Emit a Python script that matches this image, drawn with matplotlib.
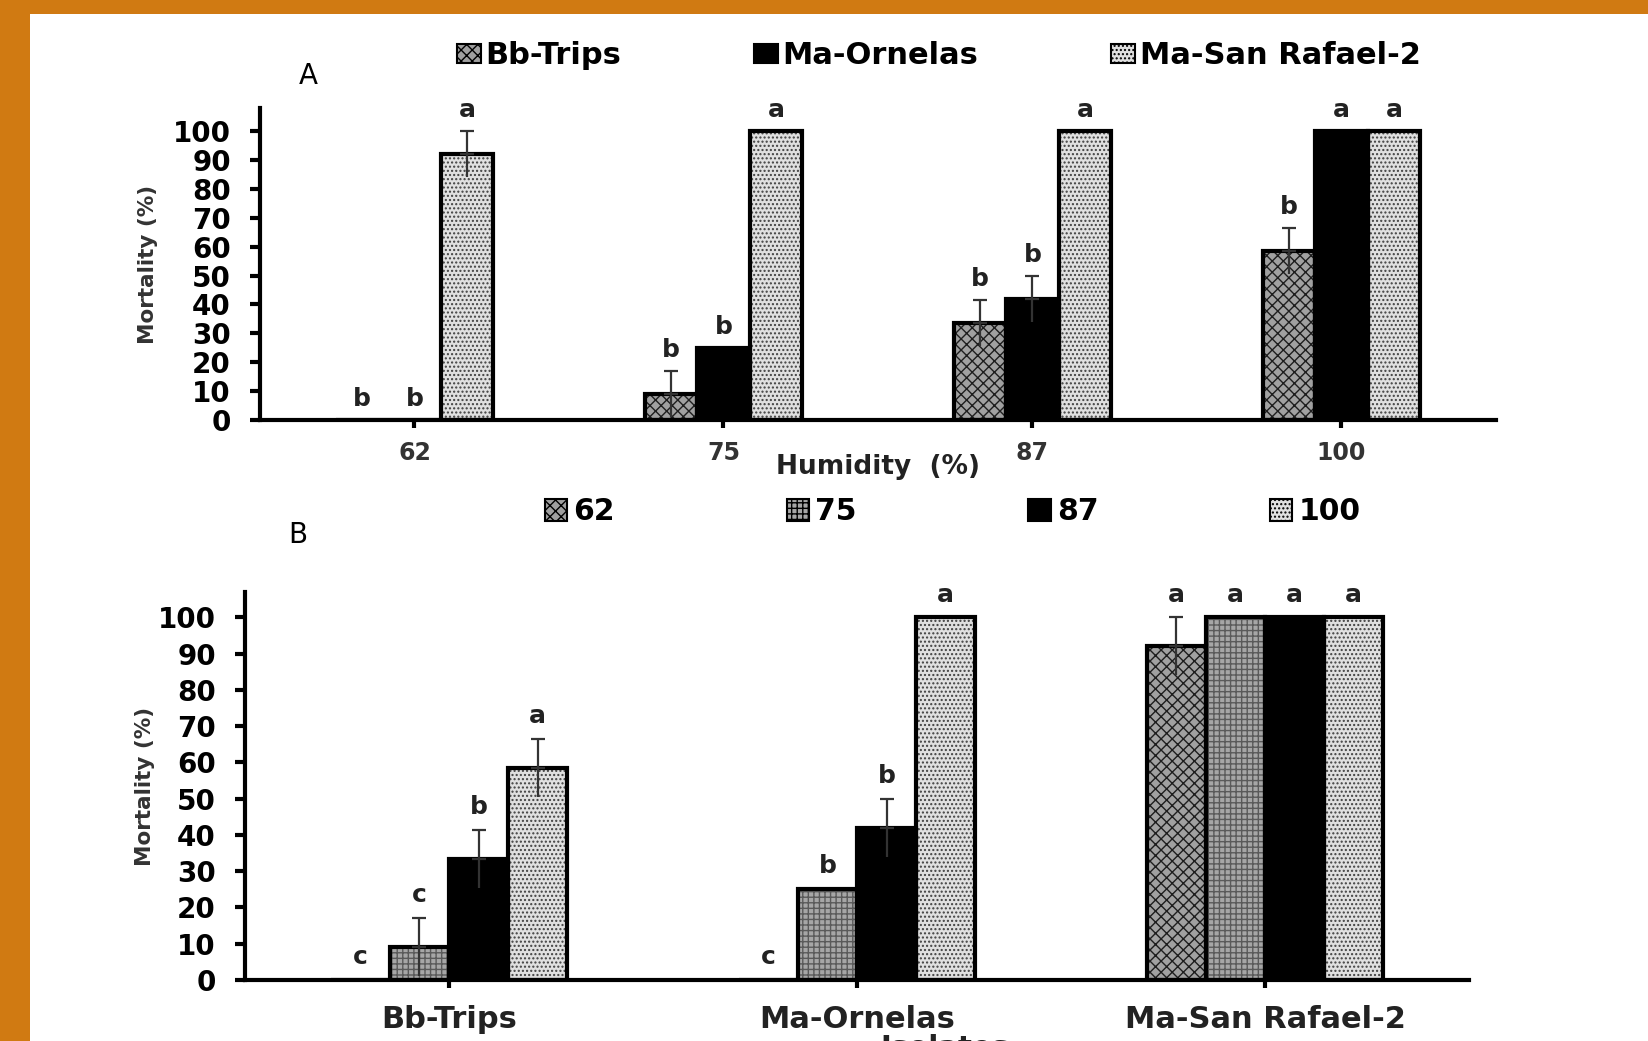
import matplotlib
matplotlib.use('Agg')
import matplotlib.pyplot as plt
import numpy as np
from matplotlib.patches import Patch, Rectangle

# data
humidity = ['62', '75', '87', '100']
isolates = ['Bb-Trips', 'Ma-Ornelas', 'Ma-San Rafael-2']

mort_bb = [0, 9, 33.5, 58.5]
mort_orn = [0, 25, 42, 100]
mort_sr = [92, 100, 100, 100]

err_bb = [0, 8, 8, 8]
err_orn = [0, 0, 8, 0]
err_sr = [8, 0, 0, 0]

# letters in panel A (compare isolates at one humidity)
let_a_bb = ['b', 'b', 'b', 'b']
let_a_orn = ['b', 'b', 'b', 'a']
let_a_sr = ['a', 'a', 'a', 'a']

# letters in panel B (compare humidities within one isolate)
let_b_bb = ['c', 'c', 'b', 'a']
let_b_orn = ['c', 'b', 'b', 'a']
let_b_sr = ['a', 'a', 'a', 'a']

mort = np.array([mort_bb, mort_orn, mort_sr])
err = np.array([err_bb, err_orn, err_sr])
let_a = [let_a_bb, let_a_orn, let_a_sr]
let_b = [let_b_bb, let_b_orn, let_b_sr]

# fill styles: (face, hatch, hatch colour)
st_diag = ('#a0a0a0', 'xxx', '#1e1e1e')
st_grey = ('#a6a6a6', '+++', '#5a5a5a')
st_black = ('black', None, 'black')
st_dots = ('#e0e0e0', '....', '#404040')

styles_a = [st_diag, st_black, st_dots]
styles_b = [st_diag, st_grey, st_black, st_dots]

plt.rcParams['font.weight'] = 'bold'
plt.rcParams['axes.labelweight'] = 'bold'
plt.rcParams['hatch.linewidth'] = 1.0

W, H = 1649, 1041
fig = plt.figure(figsize=(W / 100, H / 100), dpi=100)
fig.patch.set_facecolor('#D07A12')
fig.add_artist(Rectangle((30 / W, 0), 1, (H - 14) / H, transform=fig.transFigure,
                         facecolor='white', edgecolor='none', zorder=-5))


def draw_bars(ax, x, vals, errs, width, style):
    fc, h, hc = style
    ax.bar(x, vals, width, color=fc, hatch=h, edgecolor=hc, linewidth=0, zorder=2)
    ax.bar(x, vals, width, fill=False, edgecolor='black', linewidth=3, zorder=3)
    for xi, v, e in zip(x, vals, errs):
        if e > 0:
            ax.errorbar(xi, v, yerr=[[e], [0]], fmt='none', ecolor='#333333',
                        elinewidth=1.6, capsize=0, zorder=4)
            ax.errorbar(xi, v, yerr=[[0], [e]], fmt='none', ecolor='#333333',
                        elinewidth=1.6, capsize=5, capthick=1.6, zorder=4)


def style_axes(ax, top):
    for s in ['top', 'right']:
        ax.spines[s].set_visible(False)
    for s in ['left', 'bottom']:
        ax.spines[s].set_linewidth(3)
    ax.set_ylim(0, top)
    ax.set_yticks(range(0, 101, 10))
    ax.tick_params(axis='y', length=7, width=3, pad=14, labelsize=20)


# ---- panel A ----
axA = fig.add_axes([260 / W, (H - 420) / H, (1496 - 260) / W, (420 - 108) / H])
xa = np.arange(len(humidity))
wa = 0.17
for i in range(len(isolates)):
    xs = xa + (i - 1) * wa
    draw_bars(axA, xs, mort[i], err[i], wa, styles_a[i])
    for xi, v, e, l in zip(xs, mort[i], err[i], let_a[i]):
        axA.text(xi, v + e + 3, l, ha='center', va='bottom', fontsize=18, color='#222222')
style_axes(axA, 108)
axA.set_xlim(-0.5, 3.5)
axA.set_xticks(xa)
axA.set_xticklabels(humidity, fontsize=17, color='#333333')
axA.tick_params(axis='x', length=6, width=3, pad=9)
axA.set_xlabel('Humidity  (%)', fontsize=19, color='#222222')
axA.xaxis.set_label_coords(0.5, -0.109)
axA.set_ylabel('Mortality (%)', fontsize=15.5, color='#333333')
axA.yaxis.set_label_coords(-0.0825, 0.5)
fig.text(308 / W, 1 - 76 / H, 'A', fontsize=20, fontweight='normal', ha='center', va='center')

hA = [Patch(facecolor=s[0], hatch=s[1], edgecolor='black', linewidth=1.5) for s in styles_a]
fig.legend(hA, isolates, loc='center left', bbox_to_anchor=(457 / W, 1 - 56 / H),
           ncol=3, frameon=False, prop={'weight': 'bold', 'size': 22},
           handlelength=0.78, handleheight=0.6, handletextpad=0.15,
           columnspacing=4.35, borderpad=0, borderaxespad=0)

# ---- panel B ----
axB = fig.add_axes([245 / W, (H - 980) / H, (1469 - 245) / W, (980 - 592) / H])
xb = np.arange(len(isolates))
wb = 0.145
for j in range(len(humidity)):
    xs = xb + (j - 1.5) * wb
    draw_bars(axB, xs, mort[:, j], err[:, j], wb, styles_b[j])
    for i, xi in enumerate(xs):
        axB.text(xi, mort[i, j] + err[i, j] + 3, let_b[i][j], ha='center', va='bottom',
                 fontsize=18, color='#222222')
style_axes(axB, 107)
axB.set_xlim(-0.5, 2.5)
axB.set_xticks(xb)
axB.set_xticklabels(isolates, fontsize=22, color='#222222')
axB.tick_params(axis='x', length=6, width=3, pad=12)
axB.set_xlabel('Isolates', fontsize=21, color='#222222')
axB.xaxis.set_label_coords((945 - 245) / 1224, -0.139)
axB.set_ylabel('Mortality (%)', fontsize=15.5, color='#333333')
axB.yaxis.set_label_coords(-0.0735, 0.5)
fig.text(298 / W, 1 - 535 / H, 'B', fontsize=20, fontweight='normal', ha='center', va='center')

hB = [Patch(facecolor=s[0], hatch=s[1], edgecolor='black', linewidth=1.5) for s in styles_b]
fig.legend(hB, humidity, loc='center left', bbox_to_anchor=(545 / W, 1 - 512 / H),
           ncol=4, frameon=False, prop={'weight': 'bold', 'size': 21.5},
           handlelength=0.75, handleheight=0.75, handletextpad=0.2,
           columnspacing=5.75, borderpad=0, borderaxespad=0)

fig.savefig('out.png', dpi=100, facecolor=fig.get_facecolor())
